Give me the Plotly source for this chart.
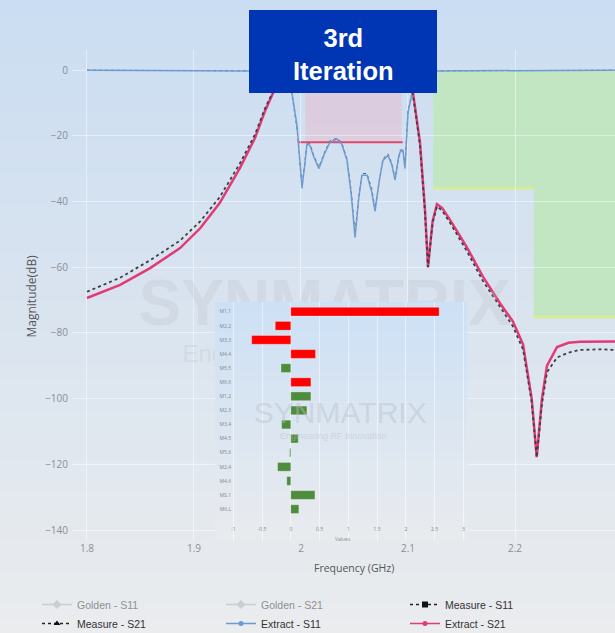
import plotly.graph_objects as go

# ---------------- data ----------------
freq_s21_extract = [1.800, 1.831, 1.859, 1.887, 1.906, 1.924, 1.943, 1.957, 1.966, 1.976,
                    1.982, 1.987, 2.000, 2.050, 2.095, 2.099, 2.1047, 2.1112, 2.1159, 2.1187,
                    2.1230, 2.1271, 2.1320, 2.1393, 2.1548, 2.1700, 2.1860, 2.1980, 2.2075,
                    2.2156, 2.2203, 2.2252, 2.2299, 2.2393, 2.2500, 2.2607, 2.2800, 2.3000]
s21_extract = [-69.4, -65.4, -60.3, -54.2, -48.1, -40.5, -29.8, -20.7, -12.8, -5.5,
               -1.0, -0.2, -0.05, -0.1, -0.2, -1.0, -7.0, -22.0, -42.6, -60.0,
               -46.0, -40.8, -42.0, -45.6, -53.8, -62.9, -71.0, -76.5, -83.5,
               -100.0, -117.8, -100.0, -90.0, -84.3, -83.0, -82.7, -82.6, -82.6]

freq_s21_measure = freq_s21_extract
s21_measure = [-67.5, -63.2, -57.9, -51.9, -46.0, -38.7, -28.4, -19.6, -12.0, -5.0,
               -0.9, -0.2, -0.05, -0.1, -0.2, -1.2, -7.5, -22.8, -43.5, -60.0,
               -46.5, -41.5, -42.8, -46.5, -55.0, -64.2, -72.3, -78.0, -85.0,
               -101.0, -117.8, -101.5, -92.0, -87.5, -86.0, -85.2, -85.0, -85.3]

freq_s11_extract = [1.800, 1.900, 1.975, 1.982, 1.9875, 1.9916, 1.9963, 1.9991, 2.0009, 2.0035,
                    2.0056, 2.0084, 2.0120, 2.0168, 2.0220, 2.0271, 2.0336, 2.0380, 2.0430, 2.0470,
                    2.0505, 2.0540, 2.0570, 2.0617, 2.0660, 2.0692, 2.0730, 2.0766, 2.0813, 2.0850,
                    2.0879, 2.0910, 2.0925, 2.0953, 2.0972, 2.1000, 2.1037, 2.1075, 2.1120, 2.2000,
                    2.3000]
s11_extract = [-0.05, -0.1, -0.3, -0.8, -2.5, -7.0, -17.0, -28.0, -36.0, -29.0,
               -22.5, -23.0, -26.5, -30.0, -25.5, -22.0, -21.0, -22.5, -27.5, -38.0,
               -51.0, -39.0, -32.0, -32.0, -37.0, -43.0, -34.0, -27.5, -26.0, -29.0,
               -33.5, -27.0, -25.0, -24.5, -30.0, -13.0, -7.0, -1.5, -0.3, -0.1,
               -0.05]

freq_s11_measure = freq_s11_extract
s11_measure = [-0.05, -0.1, -0.3, -0.9, -2.8, -7.5, -18.0, -29.0, -35.0, -28.5,
               -22.0, -22.5, -26.0, -29.5, -25.0, -21.5, -20.8, -22.0, -27.0, -37.0,
               -49.5, -38.5, -31.5, -31.5, -36.0, -42.0, -33.5, -27.0, -25.5, -28.5,
               -33.0, -26.5, -24.5, -24.0, -29.0, -12.5, -6.5, -1.4, -0.3, -0.1,
               -0.05]

# spec masks
pass_mask_freq = [1.997, 2.095]
pass_mask_level = -22
pass_zone_freq = [2.004, 2.094]
reject_zone1_freq = [2.1234, 2.32]
reject_zone1_level = [0, -36]
reject_zone2_freq = [2.2175, 2.32]
reject_zone2_level = [-36, -75.2]

# inset bar chart
inset_labels = ["M1,1", "M2,2", "M3,3", "M4,4", "M5,5", "M6,6", "M1,2", "M2,3",
                "M3,4", "M4,5", "M5,6", "M2,4", "M4,6", "MS,1", "M6,L"]
inset_values = [2.58, -0.27, -0.68, 0.43, -0.17, 0.35, 0.35, 0.28,
                -0.16, 0.13, -0.02, -0.23, -0.07, 0.42, 0.14]
inset_flag = ["r", "r", "r", "r", "g", "r", "g", "g", "g", "g", "g", "g", "g", "g", "g"]
inset_ticks = [-1, -0.5, 0, 0.5, 1, 1.5, 2, 2.5, 3]
inset_ticktext = ["-1", "-0.5", "0", "0.5", "1", "1.5", "2", "2.5", "3"]

main_xticks = [1.8, 1.9, 2.0, 2.1, 2.2, 2.3]
main_xticktext = ["1.8", "1.9", "2", "2.1", "2.2", "2.3"]

# ---------------- styling helpers ----------------
PINK = "#e23a74"
BLUE = "#6b9bd1"
flag_color = {"r": "#ff0000", "g": "#4e8c3e"}

W, H = 640, 633
L, R, T, B = 72, 4, 50, 92
PW, PH = W - L - R, H - T - B


def px_x(p):
    return (p - L) / PW


def px_y(p):
    return (H - B - p) / PH


def lerp(c1, c2, t):
    return tuple(round(a + (b - a) * t) for a, b in zip(c1, c2))


def grad(stops, t):
    for (p1, c1), (p2, c2) in zip(stops, stops[1:]):
        if p1 <= t <= p2:
            return lerp(c1, c2, (t - p1) / (p2 - p1))
    return stops[-1][1]


fig = go.Figure()

# ---- visible curves (no legend) ----
fig.add_trace(go.Scatter(x=freq_s11_measure, y=s11_measure, mode="lines",
                         line=dict(color="#56657a", width=1, dash="dot"),
                         showlegend=False, hoverinfo="skip"))
fig.add_trace(go.Scatter(x=freq_s11_extract, y=s11_extract, mode="lines",
                         line=dict(color=BLUE, width=1.5), opacity=0.95,
                         showlegend=False, hoverinfo="skip"))
fig.add_trace(go.Scatter(x=freq_s21_extract, y=s21_extract, mode="lines",
                         line=dict(color=PINK, width=2.5),
                         showlegend=False, hoverinfo="skip"))
fig.add_trace(go.Scatter(x=freq_s21_measure, y=s21_measure, mode="lines",
                         line=dict(color="#3a4048", width=1.8, dash="dot"),
                         showlegend=False, hoverinfo="skip"))

# ---- legend entries ----
none = [None]
fig.add_trace(go.Scatter(x=none, y=none, name="Golden - S11", visible="legendonly",
                         mode="lines+markers", line=dict(color="#a9b2bc", width=1.5),
                         marker=dict(symbol="diamond", size=7, color="#a9b2bc"), legendrank=1))
fig.add_trace(go.Scatter(x=none, y=none, name="Golden - S21", visible="legendonly",
                         mode="lines+markers", line=dict(color="#a9b2bc", width=1.5),
                         marker=dict(symbol="diamond", size=7, color="#a9b2bc"), legendrank=2))
fig.add_trace(go.Scatter(x=none, y=none, name="Measure - S11",
                         mode="lines+markers", line=dict(color="#222", width=1.5, dash="dot"),
                         marker=dict(symbol="square", size=6, color="#111"), legendrank=3))
fig.add_trace(go.Scatter(x=none, y=none, name="Measure - S21",
                         mode="lines+markers", line=dict(color="#222", width=1.5, dash="dot"),
                         marker=dict(symbol="triangle-up", size=6, color="#111"), legendrank=4))
fig.add_trace(go.Scatter(x=none, y=none, name="Extract - S11",
                         mode="lines+markers", line=dict(color=BLUE, width=1.5),
                         marker=dict(symbol="circle", size=5, color=BLUE), legendrank=5))
fig.add_trace(go.Scatter(x=none, y=none, name="Extract - S21",
                         mode="lines+markers", line=dict(color=PINK, width=1.5),
                         marker=dict(symbol="circle", size=5, color=PINK), legendrank=6))

# watermarks (decorative text)
fig.add_trace(go.Scatter(x=[2.022], y=[-72.7], mode="text", text=["<b>SYNMATRIX</b>"],
                         textfont=dict(size=64, color="rgba(185,192,200,0.27)", family="Liberation Sans"),
                         showlegend=False, hoverinfo="skip"))
fig.add_trace(go.Scatter(x=[2.022], y=[-87.0], mode="text", text=["Engineering RF Innovation"],
                         textfont=dict(size=24, color="rgba(185,192,200,0.3)", family="Liberation Sans"),
                         showlegend=False, hoverinfo="skip"))

# inset bars
inset_pos = list(range(len(inset_labels)))
fig.add_trace(go.Bar(x=inset_values, y=inset_pos, orientation="h", xaxis="x2", yaxis="y2",
                     marker=dict(color=[flag_color[f] for f in inset_flag],
                                 line=dict(width=0.6, color="rgba(255,255,255,0.5)")),
                     width=0.62, showlegend=False, hoverinfo="skip"))
fig.add_trace(go.Scatter(x=[0.86], y=[7.35], xaxis="x2", yaxis="y2", mode="text",
                         text=["SYNMATRIX"],
                         textfont=dict(size=30, color="rgba(185,192,200,0.45)", family="Liberation Sans"),
                         showlegend=False, hoverinfo="skip"))
fig.add_trace(go.Scatter(x=[0.74], y=[8.9], xaxis="x2", yaxis="y2", mode="text",
                         text=["Engineering RF Innovation"],
                         textfont=dict(size=9, color="rgba(185,192,200,0.5)", family="Liberation Sans"),
                         showlegend=False, hoverinfo="skip"))

shapes = []
# page background gradient (paper coordinates)
page_stops = [(0.0, (202, 221, 242)), (0.5, (218, 228, 239)), (1.0, (234, 236, 238))]
n = 40
y_top, y_bot = px_y(-2), px_y(H + 2)
for i in range(n):
    t = (i + 0.5) / n
    c = grad(page_stops, t)
    y1 = y_top - (y_top - y_bot) * i / n
    y0 = y_top - (y_top - y_bot) * (i + 1) / n
    shapes.append(dict(type="rect", xref="paper", yref="paper", x0=px_x(-2), x1=px_x(W + 2),
                       y0=y0 - 0.002, y1=y1, fillcolor="rgb(%d,%d,%d)" % c,
                       line=dict(width=0), layer="below"))

# inset background gradient
inset_yrange = [16.26, -0.688]
inset_xrange = [-1.318, 3.064]
inset_stops = [(0.0, (204, 224, 245)), (1.0, (233, 235, 238))]
m = 24
for i in range(m):
    t = (i + 0.5) / m
    c = grad(inset_stops, t)
    ya = inset_yrange[1] + (inset_yrange[0] - inset_yrange[1]) * i / m
    yb = inset_yrange[1] + (inset_yrange[0] - inset_yrange[1]) * (i + 1) / m
    shapes.append(dict(type="rect", xref="x2", yref="y2", x0=inset_xrange[0], x1=inset_xrange[1],
                       y0=ya - 0.01, y1=yb + 0.01, fillcolor="rgb(%d,%d,%d)" % c,
                       line=dict(width=0), layer="below"))

# spec regions
shapes.append(dict(type="rect", xref="x", yref="y", x0=reject_zone1_freq[0], x1=reject_zone1_freq[1],
                   y0=reject_zone1_level[1], y1=reject_zone1_level[0],
                   fillcolor="#c3e6c2", line=dict(width=0), layer="below"))
shapes.append(dict(type="rect", xref="x", yref="y", x0=reject_zone2_freq[0], x1=reject_zone2_freq[1],
                   y0=reject_zone2_level[1], y1=reject_zone2_level[0],
                   fillcolor="#c3e6c2", line=dict(width=0), layer="below"))
shapes.append(dict(type="line", xref="x", yref="y", x0=reject_zone1_freq[0], x1=reject_zone2_freq[0],
                   y0=reject_zone1_level[1], y1=reject_zone1_level[1],
                   line=dict(color="#d6ec98", width=3), layer="below"))
shapes.append(dict(type="line", xref="x", yref="y", x0=reject_zone2_freq[0], x1=reject_zone2_freq[1],
                   y0=reject_zone2_level[1], y1=reject_zone2_level[1],
                   line=dict(color="#d6ec98", width=3), layer="below"))
shapes.append(dict(type="rect", xref="x", yref="y", x0=pass_zone_freq[0], x1=pass_zone_freq[1],
                   y0=pass_mask_level, y1=0, fillcolor="rgba(240,168,190,0.35)",
                   line=dict(width=0), layer="below"))
shapes.append(dict(type="line", xref="x", yref="y", x0=pass_mask_freq[0], x1=pass_mask_freq[1],
                   y0=pass_mask_level, y1=pass_mask_level,
                   line=dict(color="#e2476e", width=2), layer="below"))

# title box
shapes.append(dict(type="rect", xref="paper", yref="paper", x0=px_x(249), x1=px_x(437),
                   y0=px_y(93), y1=px_y(10),
                   fillcolor="#0036b4", line=dict(width=0), layer="above"))

annotations = [
    dict(text="3rd<br>Iteration", xref="paper", yref="paper", x=px_x(343), y=px_y(54),
         xanchor="center", yanchor="middle", showarrow=False,
         font=dict(size=25.5, color="white", family="Liberation Sans", weight="bold")),
    dict(text="Frequency (GHz)", xref="paper", yref="paper", x=px_x(354), y=px_y(568),
         xanchor="center", yanchor="middle", showarrow=False,
         font=dict(size=10.5, color="#555", family="Open Sans")),
    dict(text="Magnitude(dB)", xref="paper", yref="paper", x=px_x(30.5), y=px_y(296),
         xanchor="center", yanchor="middle", showarrow=False, textangle=-90,
         font=dict(size=12, color="#555", family="Open Sans")),
    dict(text="Values", xref="paper", yref="paper", x=px_x(343), y=px_y(539),
         xanchor="center", yanchor="middle", showarrow=False,
         font=dict(size=5, color="#888", family="Open Sans")),
]

grid = "rgba(255,255,255,0.45)"
fig.update_layout(
    width=W, height=H,
    margin=dict(l=L, r=R, t=T, b=B, autoexpand=False),
    paper_bgcolor="#e0e7ee",
    plot_bgcolor="#dbe5f0",
    shapes=shapes,
    annotations=annotations,
    showlegend=True,
    xaxis=dict(range=[1.786, 1.8 + (W - R - 87) / 1070], tickvals=main_xticks, ticktext=main_xticktext,
               showgrid=True, gridcolor=grid, zeroline=False, showline=False, automargin=False,
               tickfont=dict(size=10, color="#8a8f96", family="Open Sans")),
    yaxis=dict(range=[-(H - B - 70) / 3.2857, (70 - T) / 3.2857], dtick=20, tick0=0,
               showgrid=True, gridcolor=grid, automargin=False,
               zeroline=False, showline=False, ticklabelstandoff=3,
               tickfont=dict(size=10, color="#8a8f96", family="Open Sans")),
    xaxis2=dict(domain=[px_x(215), px_x(467)], anchor="free", position=px_y(525),
                range=inset_xrange, tickvals=inset_ticks, ticktext=inset_ticktext,
                showgrid=True, gridcolor="rgba(255,255,255,0.5)", zeroline=False, showline=False,
                automargin=False, tickfont=dict(size=5, color="#888", family="Open Sans")),
    yaxis2=dict(domain=[0.0, px_y(302)], anchor="free", position=px_x(231),
                range=inset_yrange, tickvals=inset_pos, ticktext=inset_labels,
                showgrid=False, zeroline=False, showline=False, automargin=False,
                tickfont=dict(size=5, color="#888", family="Open Sans")),
    legend=dict(orientation="h", x=px_x(37), xanchor="left", y=px_y(590), yanchor="top",
                entrywidth=139, entrywidthmode="pixels", itemwidth=30, tracegroupgap=0,
                bgcolor="rgba(0,0,0,0)",
                font=dict(size=10.5, color="#333", family="Liberation Sans")),
)

fig.write_html("out.html", config={"displayModeBar": False},
               post_script="document.body.style.margin='0px';document.body.style.overflow='hidden';")
